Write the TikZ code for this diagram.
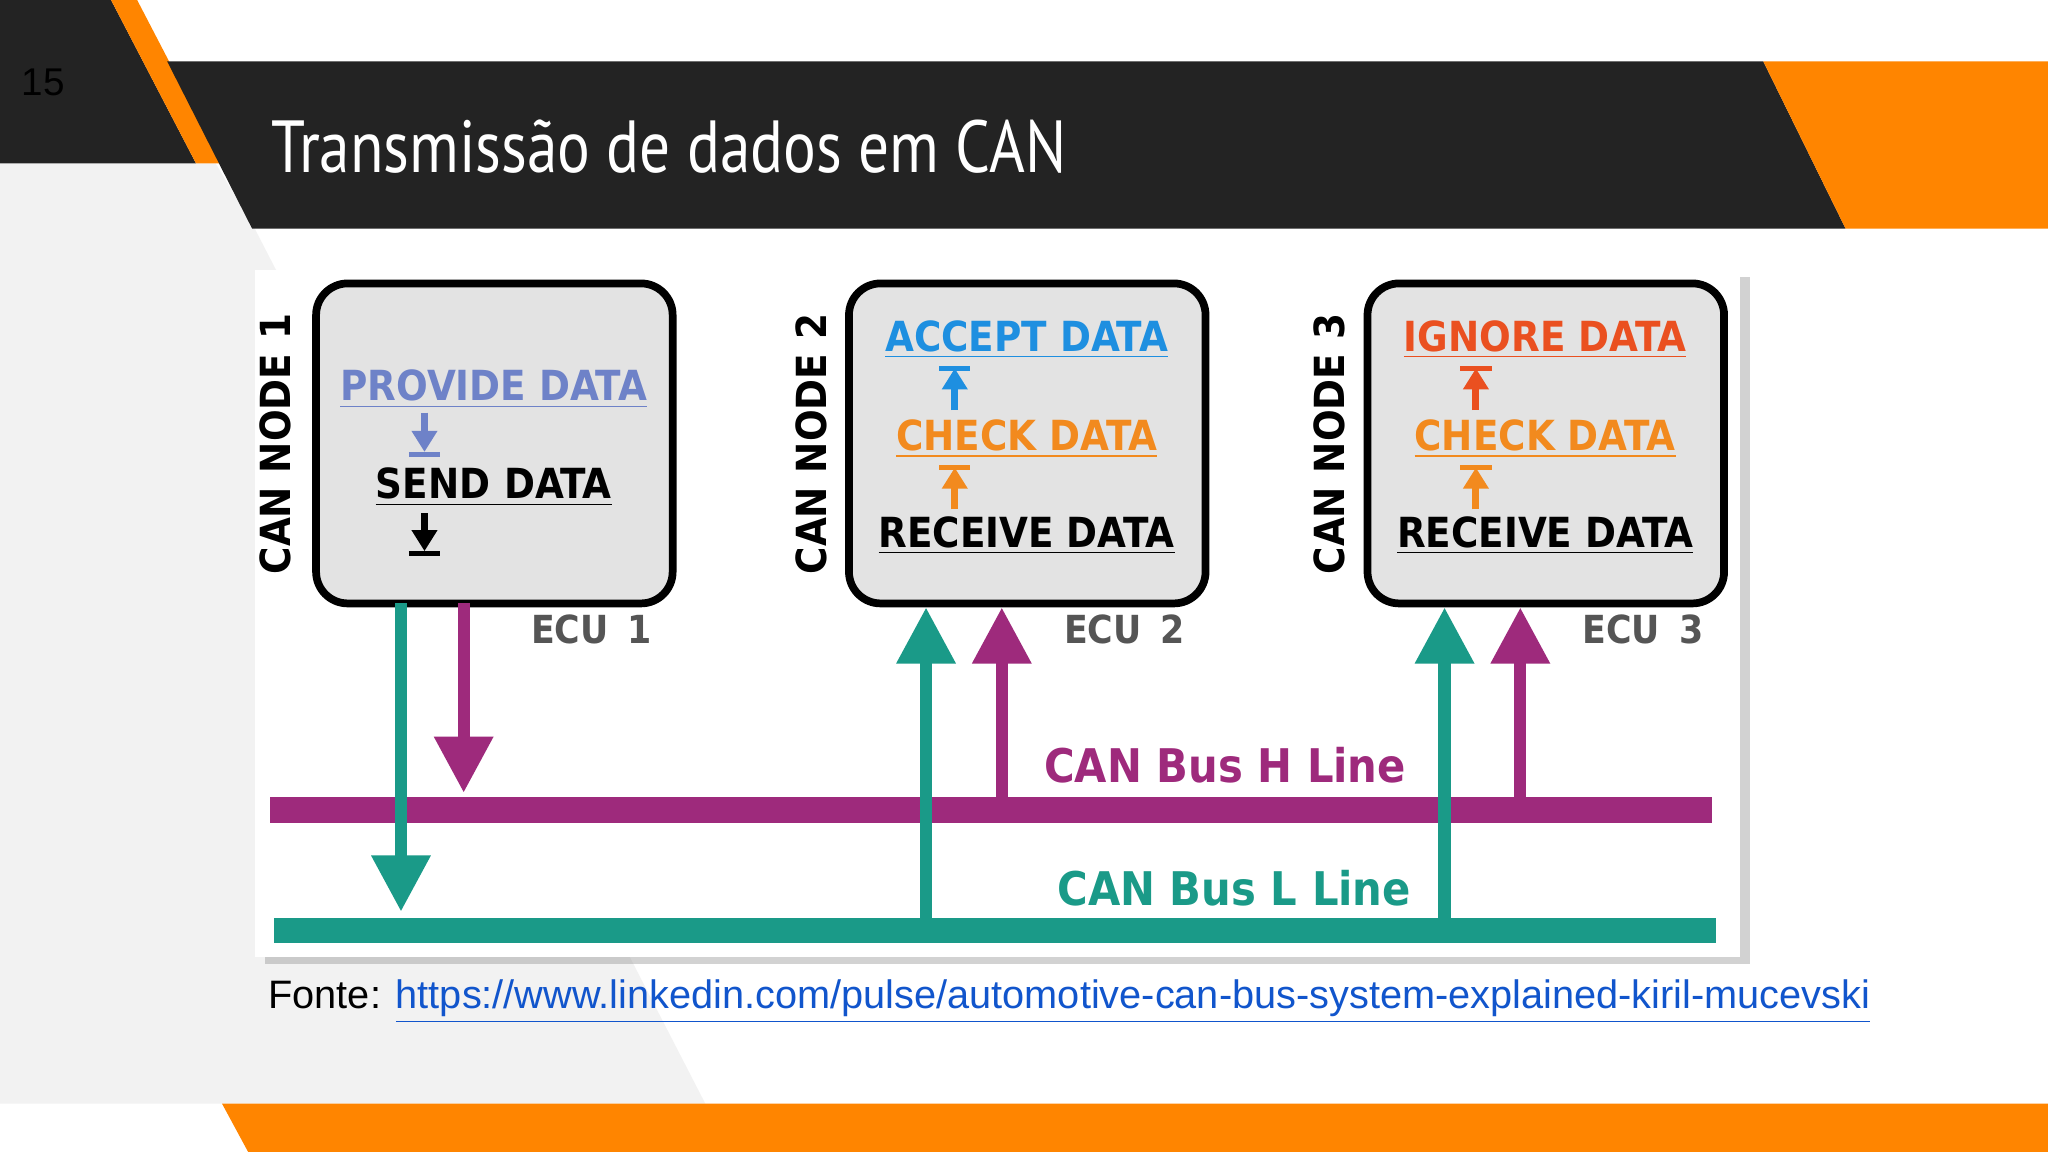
\documentclass[tikz,border=0pt]{standalone}
\usepackage{fontspec}
\setmainfont{DejaVu Sans Condensed}
\newfontfamily\tfont{PT Sans}
\newfontfamily\lfont{Liberation Sans}
\usetikzlibrary{arrows.meta,shadows}
\definecolor{dark}{HTML}{232323}
\definecolor{org}{HTML}{FF8500}
\definecolor{lg}{HTML}{F2F2F2}
\definecolor{mag}{HTML}{9E2A7C}
\definecolor{teal}{HTML}{1A9A88}
\definecolor{pblue}{HTML}{6E82C8}
\definecolor{ablue}{HTML}{1E8FE0}
\definecolor{chk}{HTML}{F28A1E}
\definecolor{ign}{HTML}{EA5020}
\definecolor{ecu}{HTML}{555555}
\tikzset{
 box/.style={draw=black,line width=2.2pt,fill=gray!22,rounded corners=9pt},
 dt/.style={font=\bfseries\fontsize{11.8}{11.8}\selectfont,inner sep=1pt},
 nodel/.style={font=\bfseries\fontsize{11.8}{11.8}\selectfont,rotate=90,inner sep=0},
 ecul/.style={font=\bfseries\fontsize{11}{11}\selectfont,text=ecu},
 bigarr/.style={line width=3.5pt,-{Triangle[width=16pt,length=16pt]}},
 smarr/.style={line width=2pt,-{Triangle[width=7pt,length=6pt]}},
}
\newcommand{\ulx}[1]{\underline{#1}}
\begin{document}
\begin{tikzpicture}[x=0.01306cm,y=-0.01306cm]
\useasboundingbox (0,0) rectangle (1568,882);
\fill[white] (0,0) rectangle (1568,882);
\fill[lg] (0,125) -- (165,125) -- (195,175) -- (540,845) -- (0,845) -- cycle;
\fill[dark] (0,0) -- (85,0) -- (150,125) -- (0,125) -- cycle;
\fill[org] (85,0) -- (105,0) -- (170,125) -- (150,125) -- cycle;
\fill[dark] (128,47) -- (1350,47) -- (1413,175) -- (193,175) -- cycle;
\fill[org] (1350,47) -- (1568,47) -- (1568,175) -- (1413,175) -- cycle;
\fill[org] (170,845) -- (1568,845) -- (1568,882) -- (190,882) -- cycle;
\node[font=\lfont\fontsize{11}{11}\selectfont] (pg) at (33,63) {15};
\node[anchor=west,text=white,font=\tfont\fontsize{21}{21}\selectfont,xscale=0.83] (title) at (200,112) {Transmissão de dados em CAN};
% panel
\fill[white,drop shadow={shadow xshift=3pt,shadow yshift=-2pt,opacity=0.35}] (195,207) rectangle (1332,733);
% boxes
\node[box,minimum width=273*0.01306cm,minimum height=245*0.01306cm] (e1) at (378.5,339.5) {};
\node[box,minimum width=273*0.01306cm,minimum height=245*0.01306cm] (e2) at (786.5,339.5) {};
\node[box,minimum width=273*0.01306cm,minimum height=245*0.01306cm] (e3) at (1183.5,339.5) {};
\node[nodel] (n1) at (211,340) {CAN\,\,NODE\,\,1};
\node[nodel] (n2) at (621,340) {CAN\,\,NODE\,\,2};
\node[nodel] (n3) at (1018,340) {CAN\,\,NODE\,\,3};
\node[ecul] (l1) at (453,482) {ECU\,\,\,1};
\node[ecul] (l2) at (861,482) {ECU\,\,\,2};
\node[ecul] (l3) at (1258,482) {ECU\,\,\,3};
% ECU1 content
\node[dt,text=pblue] (pd) at (378,298) {\ulx{PROVIDE DATA}};
\node[dt] (sd) at (378,373) {\ulx{SEND\,\,DATA}};
\draw[smarr,pblue] (325,316) -- (325,346);
\draw[line width=1.5pt,pblue] (313,348) -- (337,348);
\coordinate (s1) at (325,393); \coordinate (s2) at (325,422);
\draw[smarr,black] (s1) -- (s2);
\draw[line width=1.5pt] (313,424) -- (337,424);
% ECU2
\node[dt,text=ablue] (ad) at (786,260) {\ulx{ACCEPT DATA}};
\node[dt,text=chk] (c2) at (786,336) {\ulx{CHECK DATA}};
\node[dt] (r2) at (786,410) {\ulx{RECEIVE DATA}};
\draw[smarr,ablue] (731,314) -- (731,282);
\draw[line width=1.5pt,ablue] (719,282) -- (743,282);
\draw[smarr,chk] (731,390) -- (731,358);
\draw[line width=1.5pt,chk] (719,358) -- (743,358);
% ECU3
\node[dt,text=ign] (id) at (1183,260) {\ulx{IGNORE DATA}};
\node[dt,text=chk] (c3) at (1183,336) {\ulx{CHECK DATA}};
\node[dt] (r3) at (1183,410) {\ulx{RECEIVE DATA}};
\draw[smarr,ign] (1130,314) -- (1130,282);
\draw[line width=1.5pt,ign] (1118,282) -- (1142,282);
\draw[smarr,chk] (1130,390) -- (1130,358);
\draw[line width=1.5pt,chk] (1118,358) -- (1142,358);
% buses
\fill[mag] (207,610) rectangle (1311,630);
\fill[teal] (210,703) rectangle (1314,722);
\node[font=\bfseries\fontsize{13.2}{13.2}\selectfont,text=mag] (hl) at (938,586) {CAN Bus H Line};
\node[font=\bfseries\fontsize{13.2}{13.2}\selectfont,text=teal] (ll) at (945,680) {CAN Bus L Line};
% arrows
\draw[bigarr,teal] (307,462) -- (307,698);
\draw[bigarr,mag] (355,462) -- (355,607);
\draw[bigarr,teal] (709,703) -- (709,465);
\draw[bigarr,mag] (767,610) -- (767,465);
\draw[bigarr,teal] (1106,703) -- (1106,465);
\draw[bigarr,mag] (1164,610) -- (1164,465);
% source
\node[anchor=west,font=\lfont\fontsize{11.3}{11.3}\selectfont,inner sep=0] (src) at (205,767) {Fonte: \textcolor[HTML]{1155CC}{\underline{https://www.linkedin.com/pulse/automotive-can-bus-system-explained-kiril-mucevski}}};
\end{tikzpicture}
\end{document}
